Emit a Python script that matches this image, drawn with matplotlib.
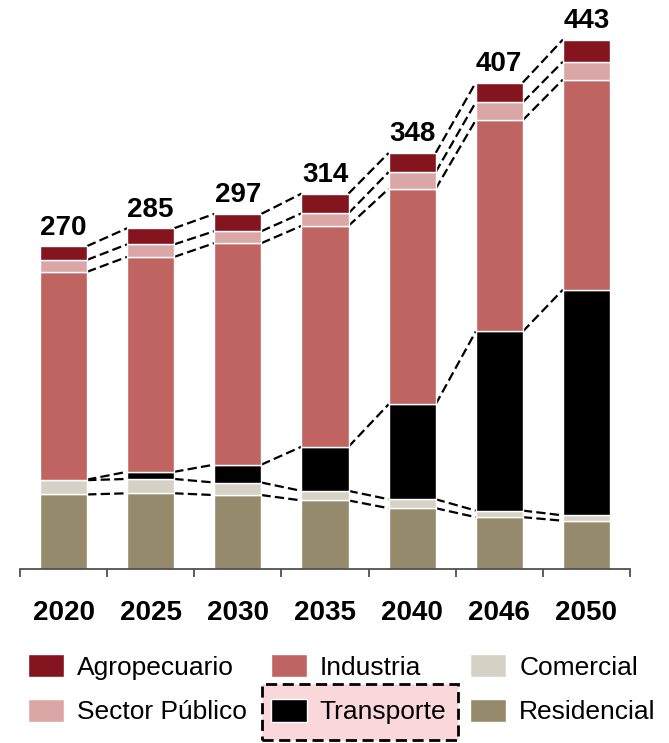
import numpy as np
import matplotlib as mpl
mpl.use('Agg')
import matplotlib.pyplot as plt
from matplotlib.patches import Rectangle

plt.rcParams['font.family'] = ['Liberation Sans', 'DejaVu Sans']

years = ['2020', '2025', '2030', '2035', '2040', '2046', '2050']
residencial = [62, 63, 61.5, 57, 50.5, 43, 40]
comercial = [12, 12, 10.5, 8, 7.5, 5.5, 4.5]
transporte = [0.5, 6, 15, 37, 79.5, 150, 189]
industria = [174, 180, 185.5, 185, 180.5, 177, 176]
sector_publico = [10, 10.5, 10, 10.5, 14, 15, 15]
agropecuario = [11.5, 13.5, 14.5, 16.5, 16, 16.5, 18.5]

# stacking order bottom -> top
series = [
    ('Residencial', residencial, '#968A6C'),
    ('Comercial', comercial, '#D5D2C5'),
    ('Transporte', transporte, '#000000'),
    ('Industria', industria, '#C06462'),
    ('Sector Público', sector_publico, '#DBA6A6'),
    ('Agropecuario', agropecuario, '#84151F'),
]

W, H = 669, 743
fig = plt.figure(figsize=(W / 100, H / 100), dpi=100)
base_px, top_px = 568.5, 10
ax = fig.add_axes([20 / W, (H - base_px) / H, 610 / W, (base_px - top_px) / H])

x = np.arange(len(years))
width = 0.54
bottom = np.zeros(len(years))
tops = []
handles = {}
for name, vals, col in series:
    vals = np.array(vals, dtype=float)
    b = ax.bar(x, vals, width, bottom=bottom, color=col, edgecolor='white',
               linewidth=1.0, label=name, zorder=2)
    handles[name] = b
    bottom = bottom + vals
    tops.append(bottom.copy())

# dashed connectors between neighbouring bars at every segment boundary
for lvl in tops:
    for i in range(len(years) - 1):
        ax.plot([x[i] + width / 2, x[i + 1] - width / 2], [lvl[i], lvl[i + 1]],
                color='black', lw=1.6, dashes=(4.2, 1.9), zorder=1,
                dash_capstyle='butt')

totals = tops[-1]
for xi, t in zip(x, totals):
    ax.annotate(f'{t:.0f}', (xi, t), xytext=(0, 4), textcoords='offset points',
                ha='center', va='bottom', fontsize=20, fontweight='bold')

ax.set_xlim(-0.5, len(years) - 0.5)
ax.set_ylim(0, (base_px - top_px) / 1.194)
for s in ['left', 'top', 'right']:
    ax.spines[s].set_visible(False)
ax.spines['bottom'].set_color('#505050')
ax.spines['bottom'].set_linewidth(1.3)
ax.set_yticks([])
ax.set_xticks(np.arange(-0.5, len(years)), [])
ax.tick_params(axis='x', which='major', direction='out', length=6,
               width=1.3, color='#505050')
ax.set_xticks(x, years, minor=True)
ax.tick_params(axis='x', which='minor', length=0, pad=23)
for lab in ax.get_xticklabels(minor=True):
    lab.set_fontsize(20)
    lab.set_fontweight('bold')

# highlighted legend entry
fig.add_artist(Rectangle((262 / W, (H - 740) / H), 196 / W, 56 / H,
                         transform=fig.transFigure, facecolor='#F9D7DA',
                         edgecolor='black', lw=2.0, linestyle=(0, (4, 2)),
                         zorder=1))

order = ['Agropecuario', 'Sector Público', 'Industria', 'Transporte',
         'Comercial', 'Residencial']
fig.legend([handles[n] for n in order], order, ncol=3, loc='upper left',
           bbox_to_anchor=(28 / W, 1 - 654 / H), frameon=False, fontsize=19,
           handlelength=1.36, handleheight=0.98, handletextpad=0.5,
           columnspacing=0.9, labelspacing=0.72, borderpad=0,
           borderaxespad=0)

fig.savefig('out.png', dpi=100)
